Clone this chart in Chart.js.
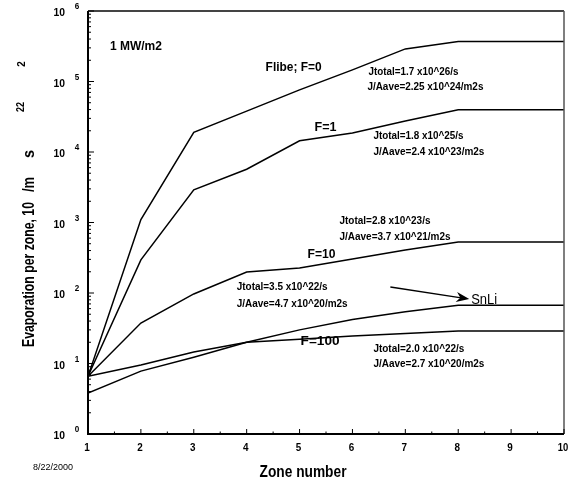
<!DOCTYPE html>
<html><head><meta charset="utf-8">
<script src="https://cdn.jsdelivr.net/npm/chart.js@4.4.0/dist/chart.umd.min.js"></script>
<style>html,body{margin:0;padding:0;background:#fff;}canvas{display:block;}</style>
</head><body>
<canvas id="c" width="568" height="484"></canvas>
<script>
// ---- data ----
const zones = [1, 2, 3, 4, 5, 6, 7, 8, 9, 10];
const flibeF0   = [6.6, 1100, 19000, 38000, 76000, 146000, 290000, 370000, 370000, 370000];
const flibeF1   = [6.6, 295, 2900, 5700, 14400, 18600, 27600, 39600, 39600, 39600];
const flibeF10  = [6.6, 37.5, 97, 198, 226, 303, 406, 530, 530, 530];
const flibeF100 = [6.6, 9.5, 14.6, 20, 22, 24.5, 26.7, 29, 29, 29];
const snLi      = [3.8, 7.8, 12.3, 20, 30, 42, 54, 67, 67, 67];
const yTickExponents = [0, 1, 2, 3, 4, 5, 6];
const xTickLabels = ['1','2','3','4','5','6','7','8','9','10'];
const seriesNames = ['Flibe; F=0', 'F=1', 'F=10', 'F=100', 'SnLi'];
const seriesValues = [flibeF0, flibeF1, flibeF10, flibeF100, snLi];

// annotations: [text, zone x, log10 y, font size, bold, target width]
const notes = [
  ['1 MW/m2', 1.415, 5.49, 12.5, true, 52],
  ['Flibe; F=0', 4.358, 5.206, 13, true, 56],
  ['Jtotal=1.7 x10^26/s', 6.302, 5.135, 11.5, true, 90],
  ['J/Aave=2.25 x10^24/m2s', 6.283, 4.922, 11.5, true, 116],
  ['F=1', 5.283, 4.34, 12.5, true, 22],
  ['Jtotal=1.8 x10^25/s', 6.396, 4.227, 11.5, true, 90],
  ['J/Aave=2.4 x10^23/m2s', 6.396, 4.0, 11.5, true, 111],
  ['Jtotal=2.8 x10^23/s', 5.755, 3.021, 11.5, true, 91],
  ['J/Aave=3.7 x10^21/m2s', 5.755, 2.794, 11.5, true, 111],
  ['F=10', 5.151, 2.539, 12.5, true, 28],
  ['Jtotal=3.5 x10^22/s', 3.811, 2.085, 11.5, true, 91],
  ['J/Aave=4.7 x10^20/m2s', 3.811, 1.844, 11.5, true, 111],
  ['SnLi', 8.245, 1.901, 14, false, 26],
  ['F=100', 5.019, 1.305, 12.5, true, 39],
  ['Jtotal=2.0 x10^22/s', 6.396, 1.206, 11.5, true, 91],
  ['J/Aave=2.7 x10^20/m2s', 6.396, 0.993, 11.5, true, 111]
];
const arrowFrom = [6.717, 2.085];
const arrowTo = [8.208, 1.915];

const FAM = '"Liberation Sans",Arial,sans-serif';
const f = (size, bold) => (bold ? 'bold ' : '') + size + 'px ' + FAM;

// draw text squeezed horizontally to a target width (narrow face substitute)
function txt(ctx, s, x, y, font, align, target) {
  ctx.save();
  ctx.font = font;
  ctx.textBaseline = 'middle';
  ctx.textAlign = 'left';
  const w = ctx.measureText(s).width;
  const sx = target ? target / w : 1;
  const ww = w * sx;
  let x0 = x;
  if (align === 'center') x0 = x - ww / 2;
  else if (align === 'right') x0 = x - ww;
  ctx.translate(x0, y);
  ctx.scale(sx, 1);
  ctx.fillText(s, 0, 0);
  ctx.restore();
}

const decor = {
  id: 'decor',
  afterDraw(chart) {
    const ctx = chart.ctx, ca = chart.chartArea;
    const xs = chart.scales.x, ys = chart.scales.y;
    ctx.save();
    ctx.fillStyle = '#000';
    // frame
    ctx.strokeStyle = '#444'; ctx.lineWidth = 2;
    ctx.beginPath(); ctx.moveTo(ca.left, ca.top); ctx.lineTo(ca.right, ca.top); ctx.stroke();
    ctx.strokeStyle = '#555'; ctx.lineWidth = 1.5;
    ctx.beginPath(); ctx.moveTo(ca.right, ca.top); ctx.lineTo(ca.right, ca.bottom); ctx.stroke();
    ctx.strokeStyle = '#000'; ctx.lineWidth = 2;
    ctx.beginPath(); ctx.moveTo(ca.left, ca.top); ctx.lineTo(ca.left, ca.bottom); ctx.lineTo(ca.right, ca.bottom); ctx.stroke();
    // y ticks
    ctx.lineWidth = 1;
    yTickExponents.forEach((e, i) => {
      const yp = ys.getPixelForValue(Math.pow(10, e));
      ctx.beginPath(); ctx.moveTo(ca.left, yp); ctx.lineTo(ca.left + 6, yp); ctx.stroke();
      if (i < yTickExponents.length - 1) {
        for (let m = 2; m <= 9; m++) {
          const ym = ys.getPixelForValue(m * Math.pow(10, e));
          ctx.beginPath(); ctx.moveTo(ca.left, ym); ctx.lineTo(ca.left + 3, ym); ctx.stroke();
        }
      }
      txt(ctx, '10', ca.left - 23, yp + 2, f(11, true), 'right', 11.5);
      txt(ctx, String(e), ca.left - 11, yp - 4, f(9, true), 'center', 4.5);
    });
    // x ticks
    xTickLabels.forEach((t) => {
      const v = Number(t);
      const xp = xs.getPixelForValue(v);
      ctx.beginPath(); ctx.moveTo(xp, ca.bottom); ctx.lineTo(xp, ca.bottom - 5); ctx.stroke();
      if (v < 10) {
        const xm = xs.getPixelForValue(v + 0.5);
        ctx.beginPath(); ctx.moveTo(xm, ca.bottom); ctx.lineTo(xm, ca.bottom - 2.5); ctx.stroke();
      }
      txt(ctx, t, xp - 1, ca.bottom + 14, f(11, true), 'center', t.length > 1 ? 10.5 : 5.5);
    });
    // annotations
    notes.forEach(n => {
      txt(ctx, n[0], xs.getPixelForValue(n[1]), ys.getPixelForValue(Math.pow(10, n[2])), f(n[3], n[4]), 'left', n[5]);
    });
    // arrow
    const ax0 = xs.getPixelForValue(arrowFrom[0]), ay0 = ys.getPixelForValue(Math.pow(10, arrowFrom[1]));
    const ax1 = xs.getPixelForValue(arrowTo[0]), ay1 = ys.getPixelForValue(Math.pow(10, arrowTo[1]));
    const ang = Math.atan2(ay1 - ay0, ax1 - ax0);
    const c = Math.cos(ang), s = Math.sin(ang);
    ctx.lineWidth = 1.3;
    ctx.beginPath(); ctx.moveTo(ax0, ay0); ctx.lineTo(ax1 - 8 * c, ay1 - 8 * s); ctx.stroke();
    ctx.beginPath();
    ctx.moveTo(ax1, ay1);
    ctx.lineTo(ax1 - 13 * c + 5 * s, ay1 - 13 * s - 5 * c);
    ctx.lineTo(ax1 - 9 * c, ay1 - 9 * s);
    ctx.lineTo(ax1 - 13 * c - 5 * s, ay1 - 13 * s + 5 * c);
    ctx.closePath(); ctx.fill();
    // axis titles
    txt(ctx, 'Zone number', 303, 473, f(16, true), 'center', 87);
    txt(ctx, '8/22/2000', 53, 468, f(9, false), 'center', 40);
    // y title (rotated) with displaced superscripts
    ctx.save();
    ctx.translate(30, 0); ctx.rotate(-Math.PI / 2);
    txt(ctx, 'Evaporation per zone, 10', -347, 0, f(16, true), 'left', 145);
    txt(ctx, '/m', -192, 0, f(16, true), 'left', 15);
    txt(ctx, 's', -158, 0, f(16, true), 'left', 8);
    txt(ctx, '22', -107, -9, f(11, true), 'center', 10);
    txt(ctx, '2', -64, -8, f(11, true), 'center', 5.5);
    ctx.restore();
    ctx.restore();
  }
};

new Chart(document.getElementById('c').getContext('2d'), {
  type: 'line',
  data: {
    datasets: seriesValues.map((vals, k) => ({
      label: seriesNames[k],
      data: zones.map((z, i) => ({ x: z, y: vals[i] })),
      borderColor: '#000',
      borderWidth: 1.5,
      pointRadius: 0,
      fill: false,
      tension: 0
    }))
  },
  options: {
    responsive: false,
    animation: false,
    devicePixelRatio: 1,
    layout: { padding: { left: 88, right: 4, top: 11, bottom: 50 } },
    plugins: { legend: { display: false }, tooltip: { enabled: false } },
    scales: {
      x: { type: 'linear', min: 1, max: 10, display: false },
      y: { type: 'logarithmic', min: 1, max: 1e6, display: false }
    }
  },
  plugins: [decor]
});
</script>
</body></html>
